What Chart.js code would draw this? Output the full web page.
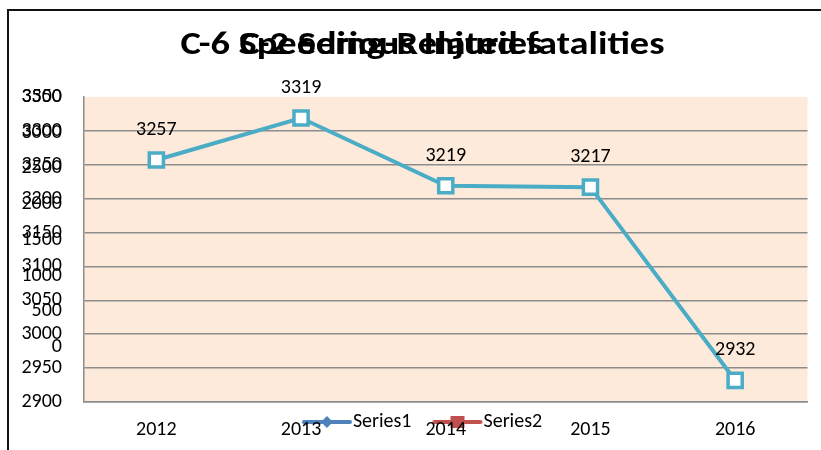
<!DOCTYPE html>
<html lang="en">
<head>
<meta charset="UTF-8">
<title>C-6 Speeding-Related fatalities</title>
<script src="https://cdn.jsdelivr.net/npm/chart.js"></script>
<style>
  body { margin: 0; background: #fff; }
  #wrap { position: relative; width: 821px; height: 450px; overflow: hidden; }
  #frame { position: absolute; left: 7px; top: 9px; width: 900px; height: 500px;
           border-left: 2px solid #111; border-top: 2px solid #111; }
  canvas { position: absolute; left: 0; top: 0; }
</style>
</head>
<body>
<div id="wrap">
  <div id="frame"></div>
  <canvas id="injuryChart" width="821" height="450"></canvas>
  <canvas id="speedChart" width="821" height="450"></canvas>
</div>
<script>
// front chart: C-6
const years = ['2012', '2013', '2014', '2015', '2016'];
const speedingFatalities = [3257, 3319, 3219, 3217, 2932];
const speedMin = 2900, speedMax = 3350, speedStep = 50;

// chart behind it: C-2, only its title, axis and legend show through
const injuryLabels = ['Series1', 'Series2'];
const injurySeries1 = [];
const injurySeries2 = [];
const injuryMin = 0, injuryMax = 3500, injuryStep = 500;

Chart.defaults.font.family = 'Carlito, Calibri, Lato, sans-serif';
Chart.defaults.color = '#000';
Chart.defaults.animation = false;

const tickFont = {size: 20};
const titleFont = {size: 32, weight: 'bold'};
const titlePad = {top: 27, bottom: 31.6};
const gridGrey = '#8c8c8c';

const plotFill = {
  id: 'plotFill',
  beforeDraw(chart) {
    const {ctx, chartArea: a} = chart;
    ctx.save();
    ctx.fillStyle = '#FDEADA';
    ctx.fillRect(a.left, a.top, a.right - a.left, a.bottom - a.top);
    ctx.restore();
  }
};

const valueLabels = {
  id: 'valueLabels',
  afterDatasetsDraw(chart) {
    const {ctx} = chart;
    const values = chart.data.datasets[0].data;
    ctx.save();
    ctx.font = tickFont.size + 'px ' + Chart.defaults.font.family;
    ctx.fillStyle = '#000';
    ctx.textAlign = 'center';
    ctx.textBaseline = 'middle';
    chart.getDatasetMeta(0).data.forEach((pt, i) => {
      ctx.fillText(values[i], pt.x, pt.y - 30);
    });
    ctx.restore();
  }
};

// the titles in the original come out wide, so stretch them sideways
function stretchTitle(chart, sx, shift) {
  const block = chart.titleBlock;
  const draw = block.draw.bind(block);
  block.draw = function () {
    const ctx = chart.ctx;
    const cx = (block.left + block.right) / 2;
    ctx.save();
    ctx.translate(cx + shift, 0);
    ctx.scale(sx, 1);
    ctx.translate(-cx, 0);
    draw();
    ctx.restore();
  };
  chart.draw();
}

function legendIcon(color, shape) {
  const c = document.createElement('canvas');
  c.width = 60; c.height = 16;
  const g = c.getContext('2d');
  g.strokeStyle = color;
  g.fillStyle = color;
  g.lineWidth = 4;
  g.lineCap = 'round';
  g.beginPath(); g.moveTo(11, 8); g.lineTo(57, 8); g.stroke();
  if (shape === 'diamond') {
    g.beginPath(); g.moveTo(34, 2); g.lineTo(40, 8); g.lineTo(34, 14); g.lineTo(28, 8); g.closePath(); g.fill();
  } else {
    g.fillRect(27, 2, 14, 12);
  }
  return c;
}
const legendIcons = [legendIcon('#4F81BD', 'diamond'), legendIcon('#C0504D', 'square')];

const injuryChart = new Chart(document.getElementById('injuryChart'), {
  type: 'line',
  data: {
    labels: years,
    datasets: [
      {label: injuryLabels[0], data: injurySeries1, borderColor: '#4F81BD'},
      {label: injuryLabels[1], data: injurySeries2, borderColor: '#C0504D'}
    ]
  },
  options: {
    responsive: false,
    layout: {padding: {left: 21, right: 60, top: 0, bottom: 8}},
    plugins: {
      title: {display: true, text: 'C-2 Serious Injuries', font: titleFont, padding: titlePad, color: '#000'},
      legend: {
        position: 'bottom',
        fullSize: false,
        labels: {
          usePointStyle: true,
          pointStyleWidth: 40,
          boxHeight: 14,
          padding: 22,
          font: tickFont,
          color: '#000',
          generateLabels: chart => chart.data.datasets.map((ds, i) => ({
            text: ds.label,
            pointStyle: legendIcons[i],
            fontColor: '#000',
            datasetIndex: i
          }))
        }
      },
      tooltip: {enabled: false}
    },
    scales: {
      x: {
        grid: {display: false},
        border: {display: false},
        ticks: {display: false},
        afterFit: s => { s.height = 43; }
      },
      y: {
        min: injuryMin, max: injuryMax,
        grid: {display: false, drawTicks: false},
        border: {display: false},
        ticks: {stepSize: injuryStep, padding: 22, font: tickFont, callback: v => String(v)},
        afterFit: s => { s.width = 63; }
      }
    }
  }
});

const speedChart = new Chart(document.getElementById('speedChart'), {
  type: 'line',
  data: {
    labels: years,
    datasets: [{
      label: 'C-6 Speeding-Related fatalities',
      data: speedingFatalities,
      borderColor: '#4BACC6',
      borderWidth: 4,
      pointStyle: 'rect',
      pointRadius: 10,
      pointBorderWidth: 3.5,
      pointBackgroundColor: '#fff',
      pointBorderColor: '#4BACC6',
      tension: 0
    }]
  },
  options: {
    responsive: false,
    layout: {padding: {left: 21, right: 7, top: 0, bottom: 0}},
    plugins: {
      title: {display: true, text: 'C-6 Speeding-Related fatalities', font: titleFont, padding: titlePad, color: '#000'},
      legend: {display: false},
      tooltip: {enabled: false}
    },
    scales: {
      x: {
        offset: true,
        grid: {display: false, drawTicks: false},
        border: {display: true, color: gridGrey, width: 1.5},
        ticks: {padding: 16, font: tickFont},
        afterFit: s => { s.height = 48; }
      },
      y: {
        min: speedMin, max: speedMax,
        grid: {
          drawTicks: false,
          lineWidth: 1.5,
          color: c => (c.tick && c.tick.value === speedMax) ? 'rgba(0,0,0,0)' : gridGrey
        },
        border: {display: true, color: gridGrey, width: 1.5},
        ticks: {stepSize: speedStep, padding: 22, font: tickFont, callback: v => String(v)},
        afterFit: s => { s.width = 63; }
      }
    }
  },
  plugins: [plotFill, valueLabels]
});

stretchTitle(injuryChart, 1.2, 0);
stretchTitle(speedChart, 1.2, 5);
</script>
</body>
</html>
